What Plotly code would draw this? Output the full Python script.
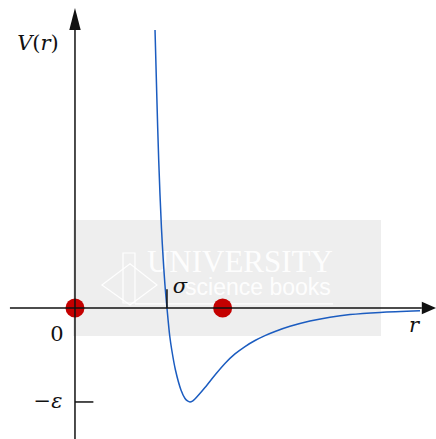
import plotly.graph_objects as go

# Interatomic pair potential V(r): r in units of sigma, V in units of epsilon
r_vals = [0.870, 0.889, 0.910, 0.940, 0.978, 1.000, 1.030, 1.052, 1.092, 1.152,
          1.196, 1.223, 1.250, 1.277, 1.304, 1.413, 1.522, 1.630, 1.739, 1.848,
          1.957, 2.065, 2.174, 2.337, 2.554, 2.772, 2.989, 3.315, 3.750]
V_vals = [2.957, 2.266, 1.574, 0.851, 0.245, 0.000, -0.298, -0.447, -0.660, -0.872,
          -0.963, -0.989, -1.000, -0.991, -0.968, -0.846, -0.713, -0.590, -0.489, -0.410,
          -0.346, -0.294, -0.250, -0.195, -0.138, -0.098, -0.070, -0.047, -0.030]

# Marked positions on the r axis
dot_r = [0.0, 1.605]
dot_V = [0.0, 0.0]

# Special values on the axes
sigma_pos = 1.0
eps_depth = -1.0
x_lo, x_hi = -0.815, 3.924
y_lo, y_hi = -1.394, 3.277

AX = "#111111"
BLUE = "#1b5cc0"
RED = "#c40000"
GREY = "#eeeeee"
WM = "rgba(255,255,255,0.95)"
SERIF = "DejaVu Serif"

fig = go.Figure()

# watermark text (drawn first so the curve sits on top)
fig.add_trace(go.Scatter(
    x=[1.793], y=[0.468], mode="text", text=["UNIVERSITY"],
    textfont=dict(family="Liberation Serif", size=31, color=WM),
    hoverinfo="skip", showlegend=False))
fig.add_trace(go.Scatter(
    x=[1.989], y=[0.200], mode="text", text=["science books"],
    textfont=dict(family="Liberation Sans", size=23, color=WM),
    hoverinfo="skip", showlegend=False))

# potential curve
fig.add_trace(go.Scatter(
    x=r_vals, y=V_vals, mode="lines",
    line=dict(color=BLUE, width=1.5, shape="spline", smoothing=0.9),
    hoverinfo="skip", showlegend=False))

# red markers
fig.add_trace(go.Scatter(
    x=dot_r, y=dot_V, mode="markers",
    marker=dict(color=RED, size=19, line=dict(width=0)),
    hoverinfo="skip", showlegend=False))

# labels
labels = [
    (-0.402, 2.798, "<i>V</i>(<i>r</i>)"),
    (-0.196, -0.300, "0"),
    (-0.293, -1.005, "−<i>ε</i>"),
    (1.141, 0.220, "<i>σ</i>"),
    (3.685, -0.195, "<i>r</i>"),
]
fig.add_trace(go.Scatter(
    x=[l[0] for l in labels], y=[l[1] for l in labels], mode="text",
    text=[l[2] for l in labels],
    textfont=dict(family=SERIF, size=21, color=AX),
    hoverinfo="skip", showlegend=False))

shapes = []
# grey watermark panel
shapes.append(dict(type="rect", x0=-0.022, x1=3.326, y0=-0.298, y1=0.936,
                   fillcolor=GREY, line=dict(width=0), layer="below"))
# watermark emblem: tower and diamond, plus underline
shapes.append(dict(type="rect", x0=0.522, x1=0.652, y0=0.053, y1=0.585,
                   line=dict(color=WM, width=1.2), layer="below"))
shapes.append(dict(type="path",
                   path="M 0.293 0.245 L 0.598 0.470 L 0.891 0.245 L 0.598 0.032 Z",
                   line=dict(color=WM, width=1.2), layer="below"))
shapes.append(dict(type="line", x0=0.652, x1=2.804, y0=0.043, y1=0.043,
                   line=dict(color=WM, width=1.2), layer="below"))

# axes with arrow heads
x_arrow_base, x_arrow_tip, x_head_half = 3.77, x_hi, 0.066
y_arrow_base, y_arrow_tip, y_head_half = 2.957, 3.191, 0.062
shapes.append(dict(type="line", x0=-0.707, x1=x_arrow_base, y0=0, y1=0,
                   line=dict(color=AX, width=1.5)))
shapes.append(dict(type="line", x0=0, x1=0, y0=y_lo, y1=y_arrow_base,
                   line=dict(color=AX, width=1.5)))
shapes.append(dict(type="path",
                   path=f"M {x_arrow_base} {-x_head_half} L {x_arrow_tip} 0 L {x_arrow_base} {x_head_half} Z",
                   fillcolor=AX, line=dict(width=0)))
shapes.append(dict(type="path",
                   path=f"M {-y_head_half} {y_arrow_base} L 0 {y_arrow_tip} L {y_head_half} {y_arrow_base} Z",
                   fillcolor=AX, line=dict(width=0)))
# ticks for -epsilon and sigma
shapes.append(dict(type="line", x0=0, x1=0.2, y0=eps_depth, y1=eps_depth,
                   line=dict(color=AX, width=1.5)))
shapes.append(dict(type="line", x0=sigma_pos, x1=sigma_pos, y0=0, y1=0.2,
                   line=dict(color=AX, width=1.5)))

fig.update_layout(
    width=436, height=439,
    margin=dict(l=0, r=0, t=0, b=0, pad=0),
    paper_bgcolor="white", plot_bgcolor="white",
    xaxis=dict(range=[x_lo, x_hi], visible=False, fixedrange=True),
    yaxis=dict(range=[y_lo, y_hi], visible=False, fixedrange=True),
    shapes=shapes,
    showlegend=False,
)

fig.write_html("out.html", config={"displayModeBar": False})
